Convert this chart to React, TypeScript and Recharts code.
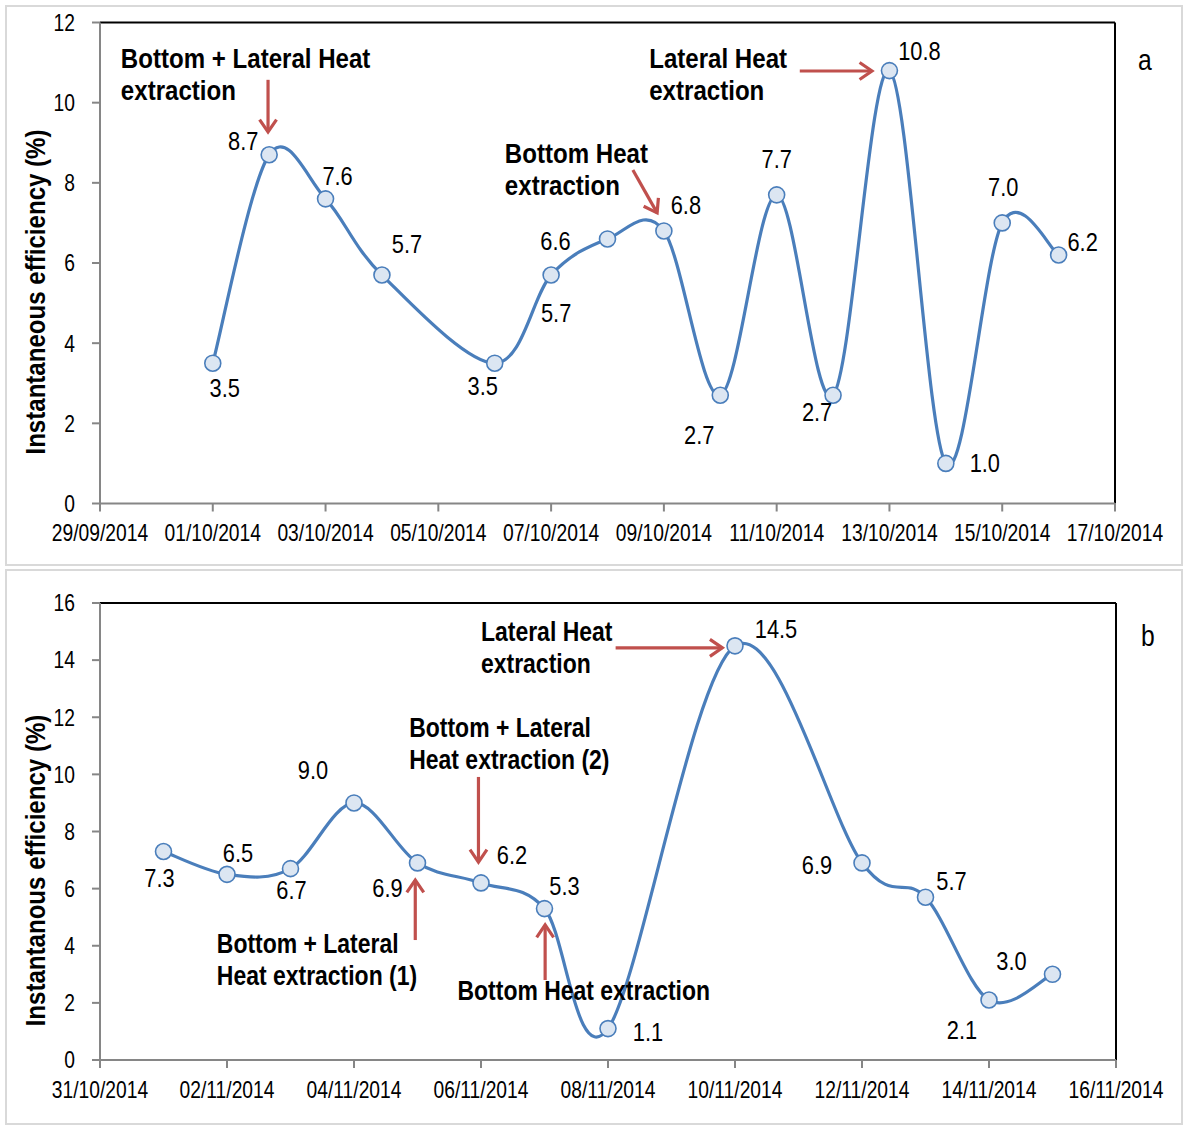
import React from "react";
import { LineChart, Line, XAxis, YAxis, LabelList, ReferenceLine, ReferenceDot, Label } from "recharts";

const DAY = 86400000;
const toDay = (s: string) => {
  const [d, m, y] = s.split("/").map(Number);
  return Date.UTC(y, m - 1, d) / DAY;
};
const fmt = (n: number) => {
  const dt = new Date(Math.round(n) * DAY);
  const p = (v: number) => String(v).padStart(2, "0");
  return `${p(dt.getUTCDate())}/${p(dt.getUTCMonth() + 1)}/${dt.getUTCFullYear()}`;
};

// chart a
const datesA = [
  "01/10/2014", "02/10/2014", "03/10/2014", "04/10/2014", "06/10/2014",
  "07/10/2014", "08/10/2014", "09/10/2014", "10/10/2014", "11/10/2014",
  "12/10/2014", "13/10/2014", "14/10/2014", "15/10/2014", "16/10/2014",
];
const effA = [3.5, 8.7, 7.6, 5.7, 3.5, 5.7, 6.6, 6.8, 2.7, 7.7, 2.7, 10.8, 1.0, 7.0, 6.2];
const ticksA = [
  "29/09/2014", "01/10/2014", "03/10/2014", "05/10/2014", "07/10/2014",
  "09/10/2014", "11/10/2014", "13/10/2014", "15/10/2014", "17/10/2014",
];
const yTicksA = [0, 2, 4, 6, 8, 10, 12];

// chart b
const datesB = [
  "01/11/2014", "02/11/2014", "03/11/2014", "04/11/2014", "05/11/2014",
  "06/11/2014", "07/11/2014", "08/11/2014", "10/11/2014", "12/11/2014",
  "13/11/2014", "14/11/2014", "15/11/2014",
];
const effB = [7.3, 6.5, 6.7, 9.0, 6.9, 6.2, 5.3, 1.1, 14.5, 6.9, 5.7, 2.1, 3.0];
const ticksB = [
  "31/10/2014", "02/11/2014", "04/11/2014", "06/11/2014", "08/11/2014",
  "10/11/2014", "12/11/2014", "14/11/2014", "16/11/2014",
];
const yTicksB = [0, 2, 4, 6, 8, 10, 12, 14, 16];

// label placement (px offset from point)
const labelOffA = [
  [12, 24], [-26, -14], [12, -23], [25, -31], [-12, 22], [5, 38], [-52, 2], [22, -26],
  [-21, 39], [0, -36], [-16, 16], [30, -20], [39, -1], [1, -36], [24, -13],
];
const labelOffB = [
  [-4, 26], [11, -22], [1, 21], [-41, -33], [-30, 25], [31, -28], [20, -23],
  [40, 3], [41, -17], [-45, 2], [26, -17], [-27, 30], [-41, -14],
];

// annotations, x in days from axis start
const notesA = [
  { x: 0.37, y: 10.87, lines: ["Bottom + Lateral Heat", "extraction"] },
  { x: 9.74, y: 10.87, lines: ["Lateral Heat", "extraction"] },
  { x: 7.18, y: 8.5, lines: ["Bottom Heat", "extraction"] },
];
const arrowsA = [
  { x1: 2.98, y1: 10.57, x2: 2.98, y2: 9.27 },
  { x1: 12.41, y1: 10.79, x2: 13.69, y2: 10.79 },
  { x1: 9.45, y1: 8.32, x2: 9.88, y2: 7.25 },
];
const notesB = [
  { x: 6.0, y: 14.67, lines: ["Lateral Heat", "extraction"] },
  { x: 4.87, y: 11.31, lines: ["Bottom + Lateral", "Heat extraction (2)"] },
  { x: 1.84, y: 3.75, lines: ["Bottom + Lateral", "Heat extraction (1)"] },
  { x: 5.63, y: 2.1, lines: ["Bottom Heat extraction"] },
];
const arrowsB = [
  { x1: 8.12, y1: 14.43, x2: 9.8, y2: 14.43 },
  { x1: 5.96, y1: 9.91, x2: 5.96, y2: 6.93 },
  { x1: 4.965, y1: 4.2, x2: 4.965, y2: 6.3 },
  { x1: 7.01, y1: 2.8, x2: 7.01, y2: 4.73 },
];

const FONT = '"Liberation Sans", Arial, sans-serif';
const BLUE = "#4a7ebb";
const RED = "#c0504d";

// narrow text: Liberation Sans squeezed horizontally
function NText(props: any) {
  const { x, y, sx = 0.82, size, bold, anchor = "start", dy, rotate, children } = props;
  const tf = rotate
    ? `translate(${x},${y}) rotate(${rotate}) scale(${sx},1)`
    : `translate(${x},${y}) scale(${sx},1)`;
  return (
    <g transform={tf}>
      <text
        x={0}
        y={0}
        dy={dy}
        textAnchor={anchor}
        fontSize={size}
        fontWeight={bold ? "bold" : "normal"}
        fill="#000"
        fontFamily={FONT}
      >
        {children}
      </text>
    </g>
  );
}

// Excel-like smoothed line
const excelCurve: any = (ctx: any) => {
  let pts: number[][] = [];
  return {
    areaStart() {},
    areaEnd() {},
    lineStart() {
      pts = [];
    },
    point(x: number, y: number) {
      pts.push([x, y]);
    },
    lineEnd() {
      if (!pts.length) return;
      ctx.moveTo(pts[0][0], pts[0][1]);
      for (let i = 0; i < pts.length - 1; i++) {
        const p0 = pts[i - 1] || pts[i];
        const p1 = pts[i];
        const p2 = pts[i + 1];
        const p3 = pts[i + 2] || p2;
        ctx.bezierCurveTo(
          p1[0] + (p2[0] - p0[0]) / 6,
          p1[1] + (p2[1] - p0[1]) / 6,
          p2[0] - (p3[0] - p1[0]) / 6,
          p2[1] - (p3[1] - p1[1]) / 6,
          p2[0],
          p2[1]
        );
      }
    },
  };
};

const arrowShape = (p: any) => {
  const { x1, y1, x2, y2 } = p;
  const a = Math.atan2(y2 - y1, x2 - x1);
  const L = 15;
  const W = 0.6;
  const hx1 = x2 - L * Math.cos(a - W);
  const hy1 = y2 - L * Math.sin(a - W);
  const hx2 = x2 - L * Math.cos(a + W);
  const hy2 = y2 - L * Math.sin(a + W);
  return (
    <g stroke={RED} strokeWidth={3.2} fill="none">
      <line x1={x1} y1={y1} x2={x2} y2={y2} />
      <polyline points={`${hx1},${hy1} ${x2},${y2} ${hx2},${hy2}`} />
    </g>
  );
};

const noteShape = (lines: string[], sx: number) => (p: any) => (
  <NText x={p.cx} y={p.cy} size={28} bold sx={sx}>
    {lines.map((l, i) => (
      <tspan key={i} x={0} dy={i === 0 ? 0 : 32}>
        {l}
      </tspan>
    ))}
  </NText>
);

const XTick = (p: any) => (
  <NText x={p.x} y={p.y} size={23.5} anchor="middle" dy="0.71em">
    {fmt(p.payload.value)}
  </NText>
);
const YTick = (p: any) => (
  <NText x={p.x} y={p.y} size={23.5} anchor="end" dy="0.355em">
    {p.payload.value}
  </NText>
);

type PanelProps = {
  dates: string[];
  values: number[];
  ticks: string[];
  yTicks: number[];
  offsets: number[][];
  notes: { x: number; y: number; lines: string[] }[];
  arrows: { x1: number; y1: number; x2: number; y2: number }[];
  yLabel: string;
  height: number;
  margin: { top: number; right: number; bottom: number; left: number };
  labelShift: number;
  noteSx: number;
};

function Panel(props: PanelProps) {
  const { dates, values, ticks, yTicks, offsets, notes, arrows, yLabel, height, margin, labelShift, noteSx } = props;
  const data = dates.map((d, i) => ({ day: toDay(d), eff: values[i] }));
  const tickDays = ticks.map(toDay);
  const x0 = tickDays[0];
  const x1 = tickDays[tickDays.length - 1];
  const yMax = yTicks[yTicks.length - 1];
  return (
    <LineChart width={1184} height={height} data={data} margin={margin}>
      <XAxis
        dataKey="day"
        type="number"
        domain={[x0, x1]}
        ticks={tickDays}
        interval={0}
        height={30}
        tick={XTick}
        tickSize={8}
        tickMargin={13}
        stroke="#868686"
        strokeWidth={2}
      />
      <YAxis
        type="number"
        domain={[0, yMax]}
        ticks={yTicks}
        interval={0}
        width={40}
        tick={YTick}
        tickSize={8}
        tickMargin={17}
        stroke="#868686"
        strokeWidth={2}
      >
        <Label
          content={(p: any) => {
            const vb = p.viewBox;
            const cx = vb.x - 15;
            const cy = vb.y + vb.height / 2 + labelShift;
            return (
              <NText x={cx} y={cy} rotate={-90} size={28} bold sx={0.86} anchor="middle">
                {yLabel}
              </NText>
            );
          }}
        />
      </YAxis>
      <ReferenceLine y={yMax} stroke="#000" strokeWidth={2} ifOverflow="visible" />
      <ReferenceLine x={x1} stroke="#000" strokeWidth={2} ifOverflow="visible" />
      {arrows.map((a, i) => (
        <ReferenceLine
          key={"ar" + i}
          segment={[
            { x: x0 + a.x1, y: a.y1 },
            { x: x0 + a.x2, y: a.y2 },
          ]}
          ifOverflow="visible"
          shape={arrowShape}
        />
      ))}
      {notes.map((n, i) => (
        <ReferenceDot key={"n" + i} x={x0 + n.x} y={n.y} r={0} ifOverflow="visible" shape={noteShape(n.lines, noteSx)} />
      ))}
      <Line
        dataKey="eff"
        type={excelCurve}
        stroke={BLUE}
        strokeWidth={3.2}
        dot={{ r: 8, fill: "#dce6f2", stroke: BLUE, strokeWidth: 1.6 }}
        activeDot={false}
        isAnimationActive={false}
      >
        <LabelList
          dataKey="eff"
          content={(p: any) => {
            const o = offsets[p.index] || [0, 0];
            return (
              <NText x={p.x + o[0]} y={p.y + o[1]} size={26} sx={0.84} anchor="middle" dy="0.36em">
                {Number(p.value).toFixed(1)}
              </NText>
            );
          }}
        />
      </Line>
    </LineChart>
  );
}

export default function App() {
  const box = { position: "absolute" as const, border: "2px solid #d9d9d9", boxSizing: "border-box" as const };
  return (
    <div style={{ position: "absolute", left: 0, top: 0, width: 1184, height: 1126, background: "#fff", fontFamily: FONT }}>
      <div style={{ ...box, left: 5, top: 5, width: 1178, height: 561 }} />
      <div style={{ ...box, left: 5, top: 569, width: 1178, height: 556 }} />
      <div style={{ position: "absolute", left: 0, top: 0 }}>
        <Panel
          dates={datesA}
          values={effA}
          ticks={ticksA}
          yTicks={yTicksA}
          offsets={labelOffA}
          notes={notesA}
          arrows={arrowsA}
          yLabel="Instantaneous efficiency (%)"
          height={565}
          margin={{ top: 22.5, right: 69, bottom: 31.5, left: 60 }}
          labelShift={29}
          noteSx={0.86}
        />
      </div>
      <div style={{ position: "absolute", left: 0, top: 570 }}>
        <Panel
          dates={datesB}
          values={effB}
          ticks={ticksB}
          yTicks={yTicksB}
          offsets={labelOffB}
          notes={notesB}
          arrows={arrowsB}
          yLabel="Instantanous efficiency (%)"
          height={556}
          margin={{ top: 33, right: 68, bottom: 36, left: 60 }}
          labelShift={39}
          noteSx={0.82}
        />
      </div>
      <svg style={{ position: "absolute", left: 0, top: 0 }} width={1184} height={1126} pointerEvents="none">
        <NText x={1138} y={70} size={29} sx={0.85}>a</NText>
        <NText x={1141} y={646} size={29} sx={0.85}>b</NText>
      </svg>
    </div>
  );
}
